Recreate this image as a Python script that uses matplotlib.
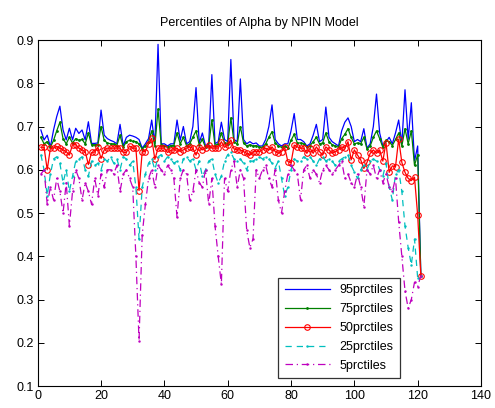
import matplotlib
matplotlib.use("Agg")
import matplotlib.pyplot as plt
import numpy as np

plt.rcParams["font.family"] = ["Liberation Sans", "DejaVu Sans"]

# observation index 1..121
obs = np.arange(1, 122)

p95 = [
    0.692, 0.669, 0.680, 0.653, 0.692, 0.723, 0.747, 0.692, 0.669, 0.696,
    0.669, 0.696, 0.684, 0.692, 0.669, 0.711, 0.661, 0.661, 0.662, 0.738,
    0.680, 0.672, 0.668, 0.665, 0.660, 0.705, 0.655, 0.675, 0.680, 0.678,
    0.675, 0.670, 0.650, 0.660, 0.672, 0.715, 0.660, 0.890, 0.660, 0.660,
    0.655, 0.660, 0.660, 0.715, 0.668, 0.700, 0.660, 0.665, 0.700, 0.790,
    0.662, 0.685, 0.655, 0.660, 0.820, 0.660, 0.665, 0.710, 0.670, 0.665,
    0.855, 0.670, 0.665, 0.810, 0.670, 0.660, 0.665, 0.660, 0.662, 0.655,
    0.655, 0.670, 0.700, 0.750, 0.670, 0.660, 0.655, 0.660, 0.660, 0.690,
    0.730, 0.670, 0.670, 0.665, 0.655, 0.660, 0.680, 0.705, 0.665, 0.670,
    0.745, 0.675, 0.665, 0.660, 0.655, 0.690, 0.710, 0.720, 0.700, 0.665,
    0.670, 0.665, 0.695, 0.650, 0.660, 0.700, 0.775, 0.685, 0.655, 0.665,
    0.675, 0.660, 0.685, 0.715, 0.660, 0.785, 0.670, 0.755, 0.620, 0.655,
    0.355,
]

p75 = [
    0.675, 0.660, 0.665, 0.652, 0.668, 0.690, 0.710, 0.672, 0.660, 0.675,
    0.662, 0.672, 0.668, 0.670, 0.660, 0.685, 0.658, 0.658, 0.658, 0.700,
    0.668, 0.662, 0.660, 0.660, 0.656, 0.680, 0.652, 0.665, 0.668, 0.666,
    0.665, 0.660, 0.648, 0.655, 0.665, 0.690, 0.655, 0.740, 0.658, 0.656,
    0.652, 0.656, 0.656, 0.685, 0.660, 0.675, 0.656, 0.660, 0.675, 0.690,
    0.658, 0.670, 0.652, 0.656, 0.715, 0.656, 0.660, 0.685, 0.662, 0.660,
    0.720, 0.664, 0.660, 0.700, 0.662, 0.655, 0.658, 0.655, 0.656, 0.652,
    0.652, 0.660, 0.675, 0.688, 0.662, 0.655, 0.652, 0.655, 0.650, 0.668,
    0.682, 0.662, 0.662, 0.660, 0.652, 0.656, 0.665, 0.675, 0.660, 0.662,
    0.685, 0.665, 0.658, 0.655, 0.652, 0.672, 0.682, 0.695, 0.675, 0.660,
    0.662, 0.660, 0.675, 0.648, 0.655, 0.675, 0.690, 0.672, 0.652, 0.668,
    0.665, 0.656, 0.670, 0.685, 0.655, 0.695, 0.660, 0.690, 0.610, 0.635,
    0.355,
]

p50 = [
    0.652, 0.652, 0.600, 0.650, 0.650, 0.654, 0.650, 0.646, 0.642, 0.634,
    0.658, 0.658, 0.650, 0.646, 0.642, 0.612, 0.640, 0.641, 0.652, 0.626,
    0.646, 0.650, 0.650, 0.650, 0.650, 0.650, 0.640, 0.640, 0.655, 0.650,
    0.650, 0.552, 0.642, 0.642, 0.660, 0.673, 0.624, 0.650, 0.650, 0.650,
    0.640, 0.645, 0.646, 0.650, 0.642, 0.646, 0.650, 0.653, 0.650, 0.634,
    0.653, 0.646, 0.650, 0.657, 0.650, 0.650, 0.650, 0.665, 0.652, 0.657,
    0.669, 0.648, 0.646, 0.646, 0.642, 0.638, 0.634, 0.642, 0.642, 0.642,
    0.646, 0.650, 0.646, 0.653, 0.642, 0.638, 0.642, 0.652, 0.619, 0.616,
    0.657, 0.653, 0.650, 0.650, 0.638, 0.650, 0.638, 0.653, 0.642, 0.634,
    0.653, 0.646, 0.638, 0.642, 0.646, 0.653, 0.650, 0.665, 0.623, 0.646,
    0.634, 0.623, 0.603, 0.617, 0.638, 0.646, 0.638, 0.646, 0.620, 0.663,
    0.594, 0.609, 0.607, 0.671, 0.617, 0.594, 0.580, 0.575, 0.583, 0.495,
    0.355,
]

p25 = [
    0.635, 0.600, 0.540, 0.590, 0.625, 0.630, 0.615, 0.570, 0.600, 0.550,
    0.585, 0.620, 0.625, 0.630, 0.600, 0.585, 0.620, 0.610, 0.615, 0.600,
    0.625, 0.620, 0.630, 0.615, 0.625, 0.600, 0.630, 0.625, 0.610, 0.620,
    0.560, 0.440, 0.560, 0.590, 0.615, 0.625, 0.600, 0.630, 0.635, 0.620,
    0.630, 0.625, 0.615, 0.620, 0.600, 0.625, 0.630, 0.620, 0.625, 0.600,
    0.620, 0.585, 0.600, 0.620, 0.625, 0.590, 0.570, 0.585, 0.620, 0.635,
    0.640, 0.625, 0.620, 0.625, 0.615, 0.600, 0.620, 0.620, 0.625, 0.630,
    0.625, 0.630, 0.625, 0.615, 0.605, 0.620, 0.580, 0.540, 0.560, 0.600,
    0.625, 0.620, 0.620, 0.630, 0.625, 0.630, 0.620, 0.610, 0.625, 0.630,
    0.620, 0.625, 0.620, 0.610, 0.620, 0.625, 0.630, 0.635, 0.610, 0.595,
    0.580, 0.600, 0.610, 0.600, 0.620, 0.625, 0.620, 0.600, 0.585, 0.615,
    0.560, 0.530, 0.590, 0.600, 0.550, 0.470, 0.420, 0.380, 0.440, 0.350,
    0.355,
]

p5 = [
    0.590, 0.600, 0.520, 0.560, 0.530, 0.580, 0.550, 0.500, 0.570, 0.470,
    0.550, 0.600, 0.580, 0.530, 0.570, 0.550, 0.520, 0.580, 0.540, 0.590,
    0.560, 0.600, 0.600, 0.590, 0.610, 0.550, 0.590, 0.600, 0.580, 0.560,
    0.400, 0.205, 0.450, 0.520, 0.580, 0.600, 0.560, 0.610, 0.600, 0.590,
    0.610, 0.600, 0.580, 0.490, 0.580, 0.600, 0.590, 0.530, 0.550, 0.600,
    0.570, 0.560, 0.600, 0.520, 0.580, 0.470, 0.400, 0.335, 0.580, 0.550,
    0.600, 0.620, 0.560, 0.600, 0.580, 0.460, 0.420, 0.440, 0.600, 0.580,
    0.600, 0.610, 0.580, 0.560, 0.600, 0.530, 0.500, 0.550, 0.590, 0.610,
    0.600, 0.590, 0.530, 0.600, 0.610, 0.580, 0.600, 0.590, 0.570, 0.600,
    0.610, 0.600, 0.590, 0.600, 0.610, 0.620, 0.580, 0.590, 0.570, 0.560,
    0.590, 0.560, 0.515, 0.600, 0.590, 0.610, 0.580, 0.600, 0.570, 0.590,
    0.560, 0.550, 0.580, 0.480, 0.400, 0.320, 0.280, 0.300, 0.340, 0.330,
    0.355,
]

labels = ["95prctiles", "75prctiles", "50prctiles", "25prctiles", "5prctiles"]

fig = plt.figure(figsize=(4.95, 4.08), dpi=100)
ax = fig.add_axes([0.0762, 0.0539, 0.8955, 0.848])

lw = 0.9
ax.plot(obs, p95, "-", color="#0000ff", lw=lw, label=labels[0])
ax.plot(obs, p75, ".-", color="#008000", lw=lw, ms=2, label=labels[1])
ax.plot(obs, p50, "o-", color="#ff0000", lw=lw, ms=4, mfc="none", mew=0.8,
        label=labels[2])
ax.plot(obs, p25, ".", ls=(0, (5, 4)), color="#00bfbf", lw=lw, ms=1.5,
        label=labels[3])
ax.plot(obs, p5, ".", ls=(0, (6, 3, 1, 3)), color="#bf00bf", lw=lw, ms=1.5,
        label=labels[4])

ax.set_xlim(0, 140)
ax.set_ylim(0.1, 0.9)
ax.set_xticks(np.arange(0, 141, 20))
ax.set_yticks(np.round(np.arange(0.1, 0.91, 0.1), 1))
ax.set_yticklabels([f"{v:.1f}" for v in np.arange(0.1, 0.91, 0.1)])
ax.tick_params(direction="in", top=True, right=True, labelsize=9,
               length=4, width=0.7, pad=3)
for s in ax.spines.values():
    s.set_linewidth(0.8)

ax.set_title("Percentiles of Alpha by NPIN Model", fontsize=9, pad=10)

leg = ax.legend(loc="lower right", bbox_to_anchor=(0.817, 0.023),
                borderaxespad=0, fontsize=9, handlelength=3.6,
                frameon=True, fancybox=False, edgecolor="black",
                labelspacing=0.55, borderpad=0.5)
leg.get_frame().set_linewidth(0.9)

fig.savefig("out.png", dpi=100)
